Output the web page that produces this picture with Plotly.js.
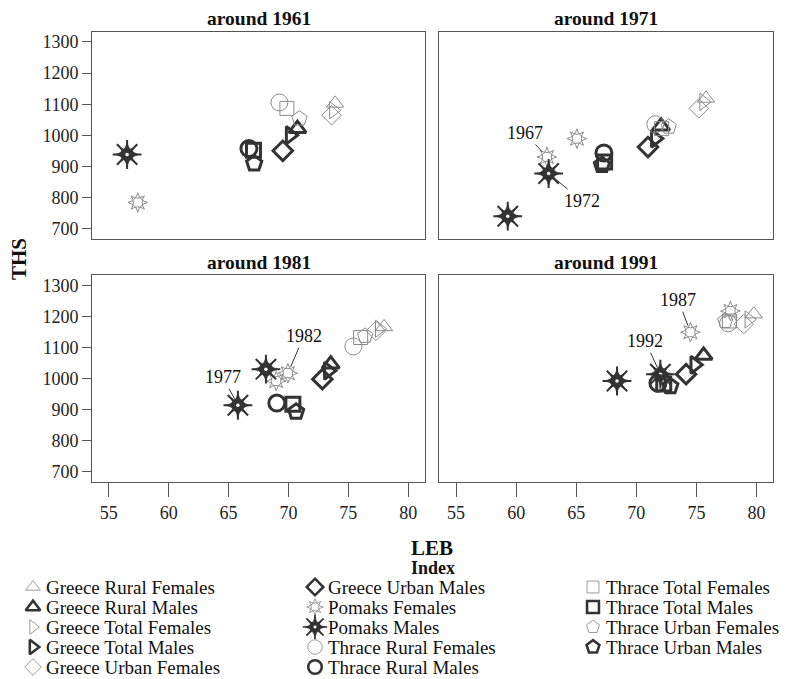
<!DOCTYPE html>
<html><head><meta charset="utf-8">
<script src="https://cdn.plot.ly/plotly-3.0.1.min.js"></script>
<style>html,body{margin:0;padding:0;background:#fff}#chart{width:785px;height:679px}</style>
</head><body><div id="chart"></div>
<script>
// ---------------- DATA ----------------
const panels = ['around 1961', 'around 1971', 'around 1981', 'around 1991'];
const seriesNames = [
  'Greece Rural Females', 'Greece Rural Males', 'Greece Total Females', 'Greece Total Males',
  'Greece Urban Females', 'Greece Urban Males', 'Pomaks Females', 'Pomaks Males',
  'Thrace Rural Females', 'Thrace Rural Males', 'Thrace Total Females', 'Thrace Total Males',
  'Thrace Urban Females', 'Thrace Urban Males'
];
// LEB (x) and THS (y), one value per series, in seriesNames order
const leb1961 = [73.9, 70.75, 73.75, 70.14, 73.6, 69.53, 57.42, 56.53, 69.25, 66.7, 69.87, 67.08, 70.92, 67.14];
const ths1961 = [1103, 1022, 1081, 1001, 1065, 951, 785, 939, 1106, 958, 1087, 953, 1054, 910];
const leb1971 = [75.8, 72.06, 75.6, 71.58, 75.2, 70.97, 65.06, 59.3, 71.58, 67.3, 72.1, 67.36, 72.7, 67.14];
const ths1971 = [1119, 1030, 1108, 990, 1087, 963, 990, 741, 1036, 944, 1022, 915, 1028, 905];
const leb1981 = [77.98, 73.53, 77.58, 73.33, 77.3, 72.83, 68.98, 68.12, 75.42, 69.03, 76.03, 70.37, 76.4, 70.64];
const ths1981 = [1166, 1046, 1160, 1025, 1153, 998, 992, 1030, 1103, 921, 1132, 917, 1137, 893];
const leb1991 = [79.78, 75.6, 79.36, 74.86, 78.94, 74.14, 77.83, 68.39, 77.64, 71.8, 77.75, 72.28, 77.4, 72.83];
const ths1991 = [1207, 1074, 1190, 1044, 1175, 1014, 1217, 992, 1178, 985, 1185, 982, 1185, 975];
// Additional labelled Pomaks observations
const extraPanel  = [1, 1, 2, 2, 3, 3];
const extraSeries = [6, 7, 7, 6, 6, 7];
const extraLabel  = ['1967', '1972', '1977', '1982', '1987', '1992'];
const extraLeb    = [62.56, 62.7, 65.78, 69.95, 74.5, 72.0];
const extraThs    = [931, 878, 914, 1017, 1149, 1014];
const xTicks = [55, 60, 65, 70, 75, 80];
const yTicks = [700, 800, 900, 1000, 1100, 1200, 1300];

// ---------------- STYLE ----------------
const FONT = 'Liberation Serif, Times New Roman, serif';
const DARK = '#333333', LIGHT = '#8a8a8a';
const styles = [
  {sym: ['triangle-up-open'], color: LIGHT, size: [15], lw: 1},
  {sym: ['triangle-up-open'], color: DARK, size: [15], lw: 3},
  {sym: ['triangle-right-open'], color: LIGHT, size: [15], lw: 1},
  {sym: ['triangle-right-open'], color: DARK, size: [15], lw: 3},
  {sym: ['diamond-open'], color: LIGHT, size: [15], lw: 1},
  {sym: ['diamond-open'], color: DARK, size: [15], lw: 3},
  {sym: ['star-diamond-open', 'star-square-open'], color: LIGHT, size: [14, 12], lw: 1},
  {sym: ['asterisk-open', 'star-diamond', 'star-square'], color: DARK, size: [24, 17, 13], lw: 2, dot: true},
  {sym: ['circle-open'], color: LIGHT, size: [17], lw: 1},
  {sym: ['circle-open'], color: DARK, size: [16], lw: 3},
  {sym: ['square-open'], color: LIGHT, size: [14], lw: 1},
  {sym: ['square-open'], color: DARK, size: [14], lw: 3},
  {sym: ['pentagon-open'], color: LIGHT, size: [16], lw: 1},
  {sym: ['pentagon-open'], color: DARK, size: [16], lw: 3}
];
const labelOffsets = [[-22, -24], [33, 27], [-15, -28], [16, -37], [-12, -32], [-15, -33]];

const lebs = [leb1961, leb1971, leb1981, leb1991];
const thss = [ths1961, ths1971, ths1981, ths1991];
const axIds = [['x', 'y'], ['x2', 'y2'], ['x3', 'y3'], ['x4', 'y4']];

function markerTraces(s, xs, ys, xa, ya, name, scale) {
  const st = styles[s];
  const out = [];
  st.sym.forEach((sym, j) => {
    const filled = sym.indexOf('open') < 0;
    out.push({
      type: 'scatter', mode: 'markers', x: xs, y: ys, xaxis: xa, yaxis: ya,
      name: name, showlegend: false, hoverinfo: 'name+x+y',
      marker: {symbol: sym, size: st.size[j] * scale, color: st.color,
               line: {color: st.color, width: filled ? 0.5 : st.lw * Math.max(scale, 0.8)}}
    });
  });
  if (st.dot) {
    out.push({
      type: 'scatter', mode: 'markers', x: xs, y: ys, xaxis: xa, yaxis: ya,
      showlegend: false, hoverinfo: 'skip',
      marker: {symbol: 'circle', size: 3.5 * scale, color: '#ffffff', line: {width: 0}}
    });
  }
  return out;
}

const traces = [];
for (let p = 0; p < 4; p++) {
  for (let s = 0; s < seriesNames.length; s++) {
    const xs = [lebs[p][s]], ys = [thss[p][s]];
    for (let k = 0; k < extraLeb.length; k++) {
      if (extraPanel[k] === p && extraSeries[k] === s) { xs.push(extraLeb[k]); ys.push(extraThs[k]); }
    }
    markerTraces(s, xs, ys, axIds[p][0], axIds[p][1], seriesNames[s], 1).forEach(t => traces.push(t));
  }
}

// ---------------- Legend (drawn on a hidden pixel axis) ----------------
const legColX = [33, 315, 593], legRow0 = 587, legStep = 20;
const annotations = [];
seriesNames.forEach((nm, i) => {
  const c = Math.floor(i / 5), r = i % 5;
  const lx = legColX[c], ly = legRow0 + r * legStep;
  markerTraces(i, [lx], [ly], 'x5', 'y5', nm, 0.85).forEach(t => { t.hoverinfo = 'skip'; traces.push(t); });
  annotations.push({xref: 'x5', yref: 'y5', x: lx + 12, y: ly, text: nm, showarrow: false,
    xanchor: 'left', yanchor: 'middle', borderpad: 0,
    font: {family: FONT, size: 19, color: '#111'}});
});

// panel titles
const xDom = [[0.1172, 0.5414], [0.5596, 0.9851]];
const yDom = [[0.6476, 0.9533], [0.2901, 0.5950]];
const titleY = [18, 262];
panels.forEach((t, p) => {
  const c = p % 2, r = Math.floor(p / 2);
  annotations.push({xref: 'paper', yref: 'paper', x: (xDom[c][0] + xDom[c][1]) / 2,
    y: (679 - titleY[r]) / 679, xanchor: 'center', yanchor: 'middle', showarrow: false,
    text: '<b>' + t + '</b>', font: {family: FONT, size: 19.5, color: '#111'}});
});
// year labels
extraLabel.forEach((lab, k) => {
  const p = extraPanel[k];
  annotations.push({xref: axIds[p][0], yref: axIds[p][1], x: extraLeb[k], y: extraThs[k],
    text: lab, showarrow: true, arrowhead: 0, arrowwidth: 1, arrowcolor: '#333',
    ax: labelOffsets[k][0], ay: labelOffsets[k][1], standoff: 7,
    font: {family: FONT, size: 18, color: '#111'}});
});
// axis titles
annotations.push({xref: 'paper', yref: 'paper', x: 432 / 785, y: (679 - 548) / 679, showarrow: false,
  xanchor: 'center', yanchor: 'middle', text: '<b>LEB</b>', font: {family: FONT, size: 21, color: '#111'}});
annotations.push({xref: 'paper', yref: 'paper', x: 433 / 785, y: (679 - 568) / 679, showarrow: false,
  xanchor: 'center', yanchor: 'middle', text: '<b>Index</b>', font: {family: FONT, size: 18, color: '#111'}});
annotations.push({xref: 'paper', yref: 'paper', x: 19 / 785, y: (679 - 259) / 679, showarrow: false,
  xanchor: 'center', yanchor: 'middle', textangle: -90, text: '<b>THS</b>',
  font: {family: FONT, size: 21, color: '#111'}});

function xa(dom, anchor, labels) {
  return {domain: dom, anchor: anchor, range: [53.6, 81.4], tickvals: xTicks,
    showticklabels: labels, ticks: labels ? 'outside' : '', ticklen: 14, tickcolor: '#555',
    showline: true, mirror: true, linecolor: '#555', linewidth: 1,
    showgrid: false, zeroline: false, fixedrange: true,
    tickfont: {family: FONT, size: 18, color: '#222'}};
}
function ya(dom, anchor, labels) {
  return {domain: dom, anchor: anchor, range: [667, 1333], tickvals: yTicks,
    showticklabels: labels, ticks: labels ? 'outside' : '', ticklen: 9, tickcolor: '#555',
    showline: true, mirror: true, linecolor: '#555', linewidth: 1,
    showgrid: false, zeroline: false, fixedrange: true,
    tickfont: {family: FONT, size: 18, color: '#222'}};
}

const layout = {
  width: 785, height: 679, margin: {l: 0, r: 0, t: 0, b: 0},
  paper_bgcolor: '#ffffff', plot_bgcolor: '#ffffff', showlegend: false,
  font: {family: FONT, color: '#111'},
  xaxis: xa(xDom[0], 'y', false), yaxis: ya(yDom[0], 'x', true),
  xaxis2: xa(xDom[1], 'y2', false), yaxis2: ya(yDom[0], 'x2', false),
  xaxis3: xa(xDom[0], 'y3', true), yaxis3: ya(yDom[1], 'x3', true),
  xaxis4: xa(xDom[1], 'y4', true), yaxis4: ya(yDom[1], 'x4', false),
  xaxis5: {domain: [0, 1], anchor: 'y5', range: [0, 785], visible: false, fixedrange: true},
  yaxis5: {domain: [0, 115 / 679], anchor: 'x5', range: [679, 564], visible: false, fixedrange: true},
  annotations: annotations
};
Plotly.newPlot('chart', traces, layout, {displayModeBar: false, staticPlot: true});
</script>
</body></html>
